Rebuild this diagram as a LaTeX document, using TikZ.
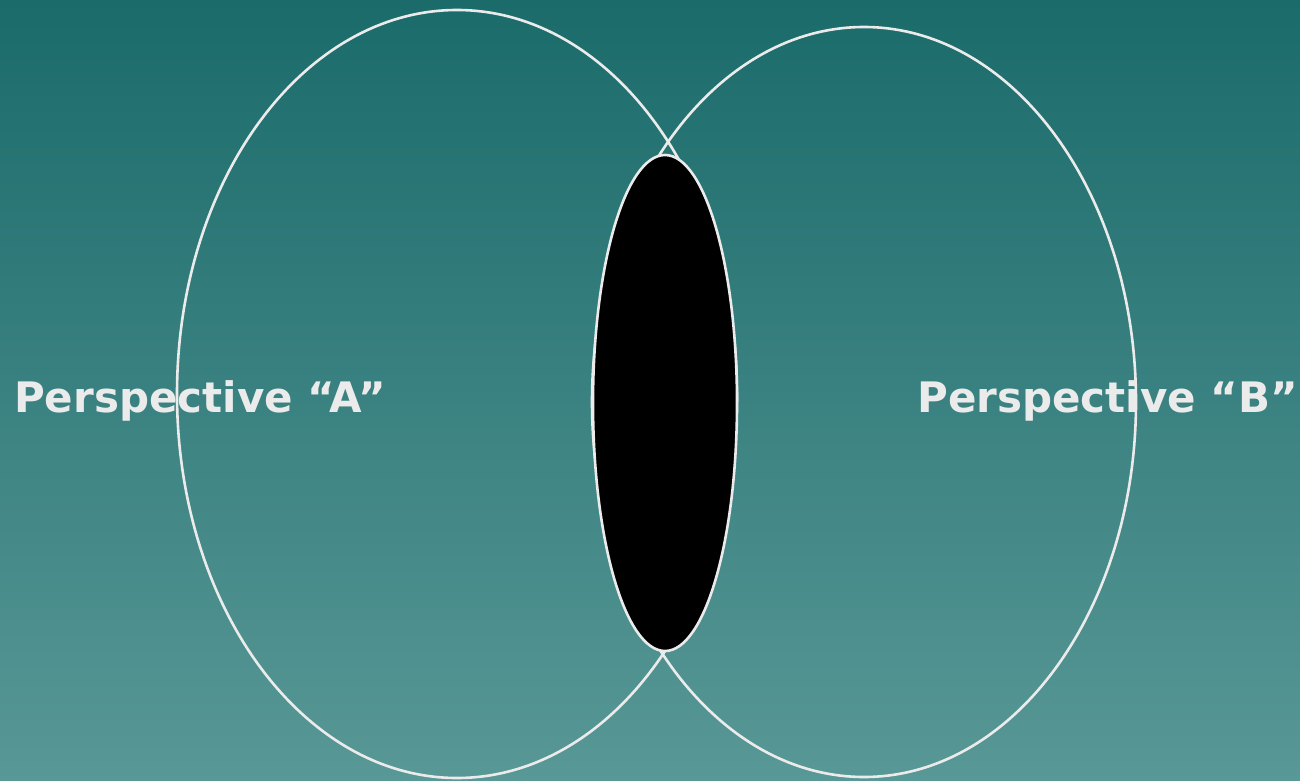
\documentclass[tikz,border=0pt]{standalone}
\usepackage{fontspec}
\setmainfont{DejaVu Sans}
\definecolor{tealtop}{RGB}{27,107,107}
\definecolor{tealbottom}{RGB}{88,152,150}
\definecolor{labelgray}{RGB}{235,235,235}
\tikzset{
  view/.style={draw=labelgray, line width=2.6pt},
  label/.style={text=labelgray, font=\fontsize{42}{48}\selectfont\bfseries, anchor=base west, inner sep=0pt}
}
\begin{document}
\begin{tikzpicture}[x=1pt, y=-1pt]
    % Background
    \shade[top color=tealtop, bottom color=tealbottom] (0,0) rectangle (1300,781);
    \useasboundingbox (0,0) rectangle (1300,781);

    % Labels
    \node[label] (A) at (14,412) {Perspective “A”};
    \node[label] (B) at (917,412) {Perspective “B”};

    % Perspectives
    \draw[view] (457,394) ellipse [x radius=280, y radius=384];
    \draw[view] (864,402) ellipse [x radius=272, y radius=375];
    \draw[view, fill=black] (665,403) ellipse [x radius=72, y radius=248];
\end{tikzpicture}
\end{document}
